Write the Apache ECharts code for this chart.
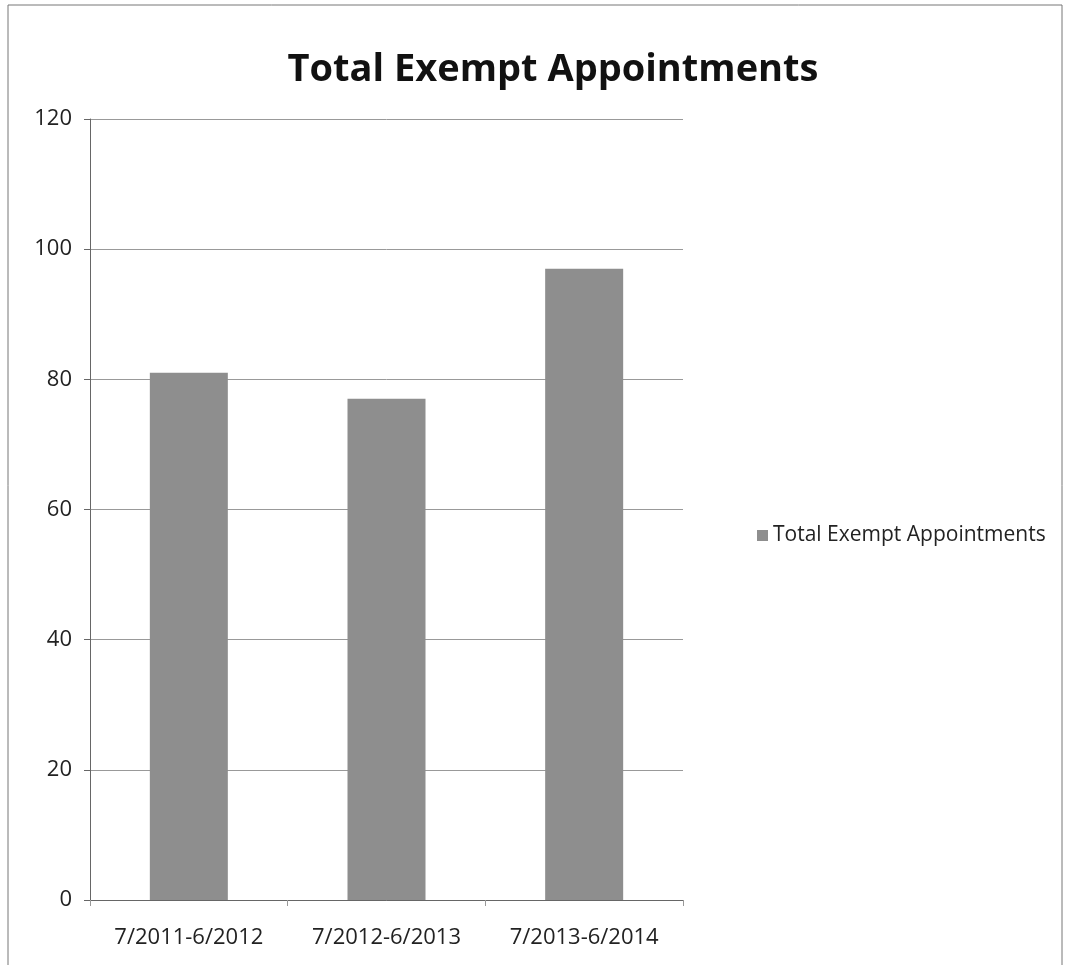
<!DOCTYPE html>
<html>
<head>
<meta charset="utf-8">
<script src="https://cdn.jsdelivr.net/npm/echarts@6/dist/echarts.min.js"></script>
<style>
  html, body { margin: 0; padding: 0; background: #fff; }
  #chart { width: 1065px; height: 965px; }
</style>
</head>
<body>
<div id="chart"></div>
<script>
var periods = ['7/2011-6/2012', '7/2012-6/2013', '7/2013-6/2014']
var appointments = [81, 77, 97]
var seriesName = 'Total Exempt Appointments'

var chart = echarts.init(document.getElementById('chart'))
var option = {
    backgroundColor: '#fff',
    title: {
        text: 'Total Exempt Appointments',
        left: 548,
        textAlign: 'center',
        top: 46,
        textStyle: {
            fontFamily: 'Open Sans',
            fontSize: 38,
            fontWeight: 'bold',
            color: '#111'
        }
    },
    legend: {
        orient: 'vertical',
        left: 752,
        top: 520,
        itemWidth: 11,
        itemHeight: 11,
        itemGap: 8,
        icon: 'rect',
        textStyle: { fontFamily: 'Open Sans', fontSize: 21, color: '#222' },
        data: [seriesName]
    },
    grid: { left: 90, right: 382, top: 119, bottom: 65, containLabel: false },
    xAxis: {
        type: 'category',
        data: periods,
        axisLine: { lineStyle: { color: '#666' } },
        axisTick: { show: true, alignWithLabel: false, length: 6, lineStyle: { color: '#999' } },
        axisLabel: { interval: 0, hideOverlap: false, fontFamily: 'Open Sans', fontSize: 22, color: '#222', margin: 27 }
    },
    yAxis: {
        type: 'value',
        min: 0,
        max: 120,
        interval: 20,
        axisLine: { show: true, lineStyle: { color: '#666' } },
        axisTick: { show: true, length: 6, inside: false, lineStyle: { color: '#666' } },
        axisLabel: { fontFamily: 'Open Sans', fontSize: 22, color: '#222', margin: 18 },
        splitLine: { lineStyle: { color: '#999' } }
    },
    series: [
        {
            name: seriesName,
            type: 'bar',
            barWidth: 78,
            data: appointments,
            itemStyle: { color: '#8e8e8e' }
        }
    ],
    graphic: [
        {
            type: 'rect',
            shape: { x: 8, y: 5, width: 1054, height: 975 },
            style: { fill: 'none', stroke: '#777', lineWidth: 1 }
        }
    ]
}
option && chart.setOption(option)
</script>
</body>
</html>
